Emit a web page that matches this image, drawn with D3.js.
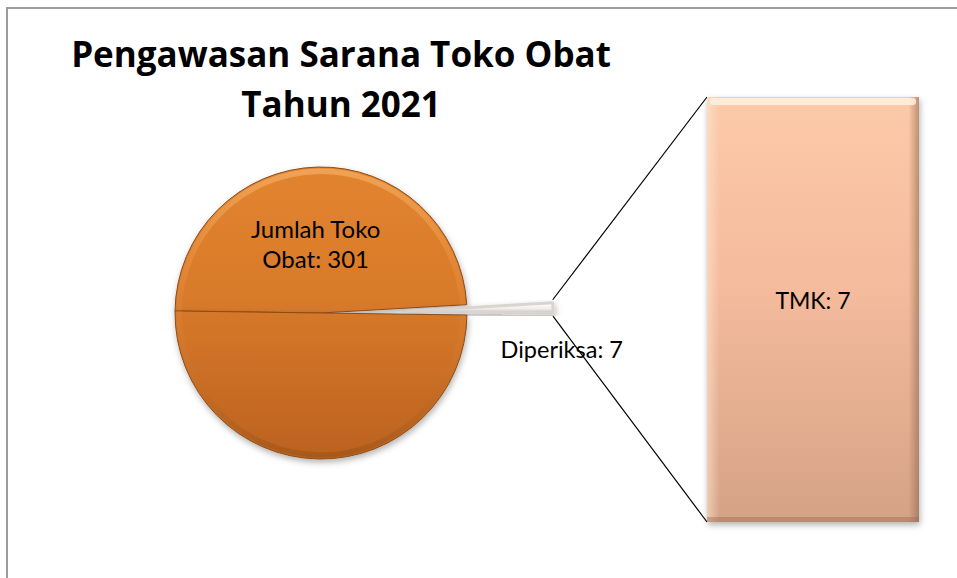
<!DOCTYPE html>
<html>
<head>
<meta charset="utf-8">
<script src="https://cdn.jsdelivr.net/npm/d3@7"></script>
<style>
  body { margin: 0; background: #fff; }
  svg { display: block; font-family: Lato, "Noto Sans", sans-serif; }
</style>
</head>
<body>
<svg width="957" height="578"></svg>
<script>
// data
const titleLines = ["Pengawasan Sarana Toko Obat", "Tahun 2021"];
const pieLabels = ["Jumlah Toko Obat", "Diperiksa", "Lainnya"];
const pieValues = [301, 7, 308];
const barLabels = ["TMK"];
const barValues = [7];

const svg = d3.select("svg");
const width = +svg.attr("width");
const height = +svg.attr("height");

const defs = svg.append("defs");

// chart area border (runs off the right and bottom of the picture)
svg.append("rect")
    .attr("x", 7).attr("y", 8)
    .attr("width", width + 20).attr("height", height + 20)
    .attr("fill", "#fff")
    .attr("stroke", "#9c9c9c")
    .attr("stroke-width", 2);

const cx = 321, cy = 313, radius = 146;

// gradients (pie ones live in the pie group's coordinates)
const orange = defs.append("linearGradient").attr("id", "orange")
    .attr("gradientUnits", "userSpaceOnUse")
    .attr("x1", 0).attr("y1", -radius).attr("x2", 0).attr("y2", radius);
orange.append("stop").attr("offset", "0%").attr("stop-color", "#e2842f");
orange.append("stop").attr("offset", "45%").attr("stop-color", "#d87a2a");
orange.append("stop").attr("offset", "100%").attr("stop-color", "#bb621f");

const ring = defs.append("linearGradient").attr("id", "ring")
    .attr("gradientUnits", "userSpaceOnUse")
    .attr("x1", 0).attr("y1", -radius).attr("x2", 0).attr("y2", radius);
ring.append("stop").attr("offset", "0%").attr("stop-color", "#f7ad62").attr("stop-opacity", 0.75);
ring.append("stop").attr("offset", "50%").attr("stop-color", "#eb9447").attr("stop-opacity", 0.15);
ring.append("stop").attr("offset", "100%").attr("stop-color", "#8e4a14").attr("stop-opacity", 0.45);

const whiteG = defs.append("linearGradient").attr("id", "whiteSlice")
    .attr("x1", 0).attr("y1", 0).attr("x2", 0).attr("y2", 1);
whiteG.append("stop").attr("offset", "0%").attr("stop-color", "#ffffff");
whiteG.append("stop").attr("offset", "55%").attr("stop-color", "#f1efed");
whiteG.append("stop").attr("offset", "100%").attr("stop-color", "#c7c1bc");

const peach = defs.append("linearGradient").attr("id", "peach")
    .attr("x1", 0).attr("y1", 0).attr("x2", 0).attr("y2", 1);
peach.append("stop").attr("offset", "0%").attr("stop-color", "#fccaa9");
peach.append("stop").attr("offset", "45%").attr("stop-color", "#f4bb9c");
peach.append("stop").attr("offset", "100%").attr("stop-color", "#d5a287");

const edgeG = defs.append("linearGradient").attr("id", "barEdge")
    .attr("x1", 0).attr("y1", 0).attr("x2", 1).attr("y2", 0);
edgeG.append("stop").attr("offset", "0%").attr("stop-color", "#ffe6d2").attr("stop-opacity", 0.6);
edgeG.append("stop").attr("offset", "6%").attr("stop-color", "#ffe6d2").attr("stop-opacity", 0);
edgeG.append("stop").attr("offset", "95%").attr("stop-color", "#8c6048").attr("stop-opacity", 0);
edgeG.append("stop").attr("offset", "100%").attr("stop-color", "#8c6048").attr("stop-opacity", 0.55);

const shadow = defs.append("filter").attr("id", "shadow")
    .attr("x", "-20%").attr("y", "-20%").attr("width", "140%").attr("height", "140%");
shadow.append("feDropShadow")
    .attr("dx", 1).attr("dy", 3).attr("stdDeviation", 3)
    .attr("flood-color", "#000").attr("flood-opacity", 0.3);

// title
svg.append("g").selectAll("text")
    .data(titleLines)
    .join("text")
    .attr("x", 341)
    .attr("y", (d, i) => 67 + i * 50)
    .attr("text-anchor", "middle")
    .attr("font-family", "'Open Sans', sans-serif")
    .attr("font-weight", "bold")
    .attr("font-size", "35px")
    .attr("fill", "#000")
    .text(d => d);

// pie
const deg = Math.PI / 180;
const startA = -90 * deg + 0.8 * deg;
const pie = d3.pie().sort(null).startAngle(startA).endAngle(startA + 2 * Math.PI);
const arcs = pie(pieValues);
const arc = d3.arc().innerRadius(0).outerRadius(radius);
const explodeIdx = 1;
const explode = 86;

function offset(d, dist) {
    const m = (d.startAngle + d.endAngle) / 2;
    return [Math.sin(m) * dist, -Math.cos(m) * dist];
}

const pieG = svg.append("g").attr("transform", `translate(${cx},${cy})`);

pieG.selectAll(".slice")
    .data(arcs)
    .join("path")
    .attr("class", "slice")
    .attr("transform", (d, i) => i === explodeIdx ? `translate(${offset(d, explode)})` : null)
    .attr("d", arc)
    .attr("fill", (d, i) => i === explodeIdx ? "url(#whiteSlice)" : "url(#orange)")
    .attr("stroke", (d, i) => i === explodeIdx ? "#d9d4cf" : "#8d4c16")
    .attr("stroke-width", (d, i) => i === explodeIdx ? 3 : 1)
    .attr("stroke-linejoin", "round")
    .attr("filter", "url(#shadow)");

// bevel ring on the orange slices
pieG.selectAll(".bevel")
    .data(arcs.filter((d, i) => i !== explodeIdx))
    .join("path")
    .attr("class", "bevel")
    .attr("d", d3.arc().innerRadius(radius - 7).outerRadius(radius - 1.5))
    .attr("fill", "url(#ring)");

// connector lines from exploded slice to bar
const x = d3.scaleBand().domain(barLabels).range([707, 919]).padding(0);
const y = d3.scaleLinear().domain([0, d3.sum(barValues)]).range([522, 97]);

const ex = arcs[explodeIdx];
const [ox, oy] = offset(ex, explode);
const tipTop = [cx + ox + Math.sin(ex.startAngle) * radius, cy + oy - Math.cos(ex.startAngle) * radius - 3];
const tipBot = [cx + ox + Math.sin(ex.endAngle) * radius, cy + oy - Math.cos(ex.endAngle) * radius + 3];
const barTop = y(d3.sum(barValues));
const barBot = y(0);
svg.append("g").selectAll("line")
    .data([[tipTop, [x.range()[0], barTop]], [tipBot, [x.range()[0], barBot]]])
    .join("line")
    .attr("x1", d => d[0][0]).attr("y1", d => d[0][1])
    .attr("x2", d => d[1][0]).attr("y2", d => d[1][1])
    .attr("stroke", "#000")
    .attr("stroke-width", 1.2);

// bar of pie
const stack = d3.cumsum(barValues);
const barG = svg.append("g");
barG.selectAll(".bar")
    .data(barValues)
    .join("rect")
    .attr("class", "bar")
    .attr("x", x(barLabels[0]))
    .attr("width", x.bandwidth())
    .attr("y", (d, i) => y(stack[i]))
    .attr("height", d => y(0) - y(d))
    .attr("fill", "url(#peach)")
    .attr("filter", "url(#shadow)");
barG.selectAll(".edge")
    .data(barValues)
    .join("rect")
    .attr("class", "edge")
    .attr("x", x(barLabels[0]))
    .attr("width", x.bandwidth())
    .attr("y", (d, i) => y(stack[i]))
    .attr("height", d => y(0) - y(d))
    .attr("fill", "url(#barEdge)");
barG.selectAll(".hl")
    .data(barValues)
    .join("rect")
    .attr("class", "hl")
    .attr("x", x(barLabels[0]) + 3)
    .attr("width", x.bandwidth() - 6)
    .attr("y", (d, i) => y(stack[i]) + 1)
    .attr("height", 7)
    .attr("rx", 3)
    .attr("fill", "#fff4e6")
    .attr("opacity", 0.8);
barG.selectAll(".bl")
    .data(barValues)
    .join("rect")
    .attr("class", "bl")
    .attr("x", x(barLabels[0]))
    .attr("width", x.bandwidth())
    .attr("y", d => y(0) - 5)
    .attr("height", 5)
    .attr("fill", "#9c6f56")
    .attr("opacity", 0.45);

barG.selectAll(".bar-label")
    .data(barValues)
    .join("text")
    .attr("class", "bar-label")
    .attr("x", x(barLabels[0]) + x.bandwidth() / 2)
    .attr("y", (d, i) => (y(stack[i]) + y(stack[i] - d)) / 2 - 1)
    .attr("text-anchor", "middle")
    .attr("font-size", "23px")
    .text((d, i) => `${barLabels[i]}: ${d}`);

// pie labels
const labelArc = d3.arc().innerRadius(radius * 0.41).outerRadius(radius * 0.41);
const upper = arcs[0];
const [lx, ly] = labelArc.centroid(upper);
const upperLbl = svg.append("text")
    .attr("text-anchor", "middle")
    .attr("font-size", "24px");
upperLbl.append("tspan")
    .attr("x", cx + lx - 4).attr("y", cy + ly - 15)
    .text("Jumlah Toko");
upperLbl.append("tspan")
    .attr("x", cx + lx - 4).attr("y", cy + ly + 15)
    .text(`Obat: ${pieValues[0]}`);

svg.append("text")
    .attr("x", tipTop[0] + 9)
    .attr("y", (tipTop[1] + tipBot[1]) / 2 + 50)
    .attr("text-anchor", "middle")
    .attr("font-size", "23.5px")
    .text(`${pieLabels[explodeIdx]}: ${pieValues[explodeIdx]}`);
</script>
</body>
</html>
